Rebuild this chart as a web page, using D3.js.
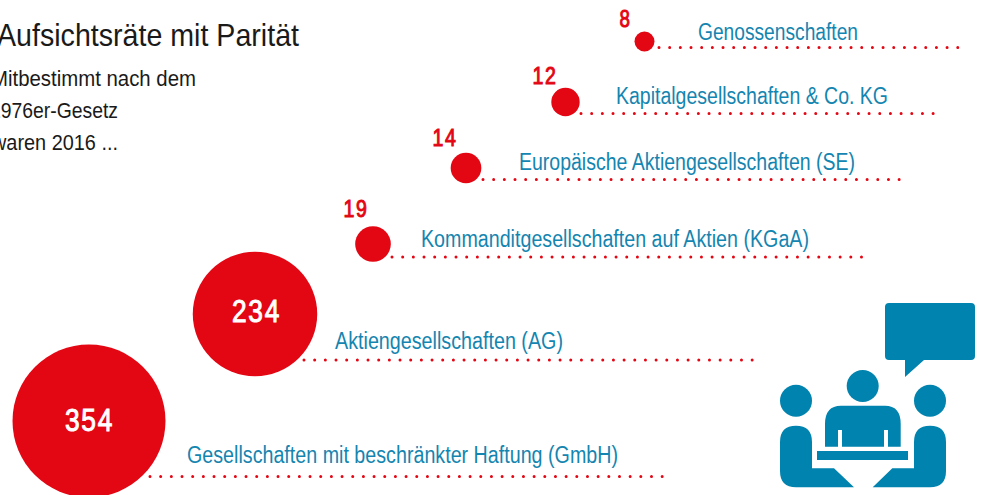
<!DOCTYPE html>
<html>
<head>
<meta charset="utf-8">
<script src="https://cdn.jsdelivr.net/npm/d3@7"></script>
<style>
  html, body { margin: 0; padding: 0; background: #fff; overflow: hidden; }
  text { font-family: "Liberation Sans", sans-serif; }
</style>
</head>
<body>
<svg id="chart" width="1008" height="495"></svg>
<script>
// data
const categories = [
  'Gesellschaften mit beschränkter Haftung (GmbH)',
  'Aktiengesellschaften (AG)',
  'Kommanditgesellschaften auf Aktien (KGaA)',
  'Europäische Aktiengesellschaften (SE)',
  'Kapitalgesellschaften & Co. KG',
  'Genossenschaften'
];
const counts = [354, 234, 19, 14, 12, 8];
const title = 'Aufsichtsräte mit Parität';
const subtitle = ['Mitbestimmt nach dem', '1976er-Gesetz', 'waren 2016 ...'];

// layout of the staircase, one entry per category
const centerX = [89, 255, 373, 466, 565.5, 644.5];
const centerY = [421, 314, 244, 168, 102, 41.5];
const ruleStart = [150, 304, 392, 483, 581, 659];
const ruleEnd = [663, 753, 863, 901, 936, 959];
const ruleY = [476.5, 360, 257, 179.5, 113.5, 47.5];
const labelX = [187, 335, 421, 519, 616, 698];
const labelY = [462.5, 348.5, 246.5, 169.5, 103.5, 39.5];
const labelW = [431, 228, 388, 336, 272, 160];
const countX = [89.5, 256.5, 356, 445, 545, 625.5];
const countY = [431, 322, 217, 146, 83.5, 26.5];
const countW = [49, 49, 25, 25, 25, 12];
const subX = [-9, -10, -8];
const subW = [205, 128, 126];

const red = '#e30613', blue = '#0083ae', labelBlue = '#1485b0', ink = '#1a1a1a';

const svg = d3.select('#chart');

const pos = arr => d3.scaleOrdinal().domain(categories).range(arr);
const cx = pos(centerX), cy = pos(centerY);
const x0 = pos(ruleStart), x1 = pos(ruleEnd), ry = pos(ruleY);
const lx = pos(labelX), ly = pos(labelY), lw = pos(labelW);
const nx = pos(countX), ny = pos(countY), nw = pos(countW);
// area scale, with the smallest bubble drawn a little under true size as in the original
const r = d3.scaleSqrt().domain([8, 12, 354]).range([10, 14.2, 76.5]);

const rows = categories.map((c, i) => ({ name: c, count: counts[i] }));

svg.selectAll('line.rule').data(rows).enter().append('line')
  .attr('class', 'rule')
  .attr('x1', d => x0(d.name)).attr('x2', d => x1(d.name))
  .attr('y1', d => ry(d.name)).attr('y2', d => ry(d.name))
  .attr('stroke', red).attr('stroke-width', 3)
  .attr('stroke-linecap', 'round').attr('stroke-dasharray', '0 10.67');

svg.selectAll('circle.bubble').data(rows).enter().append('circle')
  .attr('class', 'bubble')
  .attr('cx', d => cx(d.name)).attr('cy', d => cy(d.name))
  .attr('r', d => r(d.count)).attr('fill', red);

svg.selectAll('text.label').data(rows).enter().append('text')
  .attr('class', 'label')
  .attr('x', d => lx(d.name)).attr('y', d => ly(d.name))
  .attr('font-size', 23).attr('fill', labelBlue)
  .attr('textLength', d => lw(d.name)).attr('lengthAdjust', 'spacingAndGlyphs')
  .text(d => d.name);

// regular weight with a thin outline comes nearer to the medium DIN numerals
svg.selectAll('text.count').data(rows).enter().append('text')
  .attr('class', 'count')
  .attr('x', d => nx(d.name)).attr('y', d => ny(d.name))
  .attr('text-anchor', 'middle')
  .attr('font-size', d => d.count > 100 ? 31 : 24)
  .attr('letter-spacing', 2)
  .attr('fill', d => d.count > 100 ? '#fff' : red)
  .attr('stroke', d => d.count > 100 ? '#fff' : red)
  .attr('stroke-width', 1)
  .attr('textLength', d => nw(d.name)).attr('lengthAdjust', 'spacingAndGlyphs')
  .text(d => d.count);

svg.append('text').attr('x', -3).attr('y', 46)
  .attr('font-size', 32).attr('fill', ink)
  .attr('textLength', 302).attr('lengthAdjust', 'spacingAndGlyphs')
  .text(title);

svg.selectAll('text.sub').data(subtitle).enter().append('text')
  .attr('class', 'sub')
  .attr('x', (d, i) => subX[i])
  .attr('y', (d, i) => 86 + i * 32)
  .attr('font-size', 22).attr('fill', ink)
  .attr('textLength', (d, i) => subW[i]).attr('lengthAdjust', 'spacingAndGlyphs')
  .text(d => d);

// icon: meeting with speech bubble
const icon = svg.append('g').attr('fill', blue);
icon.append('path').attr('d', 'M889 303H971Q975 303 975 307V356Q975 360 971 360H924L905 377V360H889Q885 360 885 356V307Q885 303 889 303Z');
[[862.7, 386], [796, 400.7], [930, 400.7]].forEach(h => {
  icon.append('circle').attr('cx', h[0]).attr('cy', h[1]).attr('r', 16);
});
icon.append('path').attr('d', 'M841 405.7H885Q900.7 405.7 900.7 424V446.7H888V430H884V446.7H842V430H838V446.7H825V424Q825 405.7 841 405.7Z');
icon.append('rect').attr('x', 817).attr('y', 451).attr('width', 91).attr('height', 9);
icon.append('path').attr('d', 'M796 425.7Q812 425.7 812 442V468.3H834L854 487.3H796Q780 487.3 780 471V442Q780 425.7 796 425.7Z');
icon.append('path').attr('d', 'M930 425.7Q914 425.7 914 442V468.3H892.3L872.7 487.3H930Q946 487.3 946 471V442Q946 425.7 930 425.7Z');
</script>
</body>
</html>
